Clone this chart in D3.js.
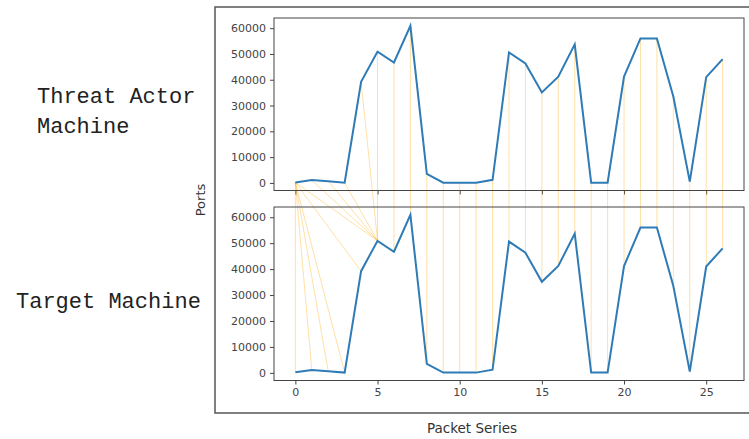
<!DOCTYPE html>
<html>
<head>
<meta charset="utf-8">
<script src="https://cdn.jsdelivr.net/npm/d3@7"></script>
<style>
  body { margin: 0; background: #fff; }
  svg { display: block; }
  .tick text { font-family: "DejaVu Sans", sans-serif; font-size: 11px; fill: #444; }
  .tick line { stroke: #444; }
</style>
</head>
<body>
<svg width="749" height="439"></svg>
<script>
// Port number of each packet
var threatPorts = [200, 1100, 650, 100, 39200, 50900, 46700, 60900, 3500, 100, 100, 100, 1200,
  50600, 46300, 35100, 41200, 53700, 100, 100, 41200, 56000, 56000, 33500, 500, 41000, 48000];
var targetPorts = [200, 1100, 650, 100, 39200, 50900, 46700, 60900, 3500, 100, 100, 100, 1200,
  50600, 46300, 35100, 41200, 53700, 100, 100, 41200, 56000, 56000, 33500, 500, 41000, 48000];

// warping path: [threat index, target index]
var alignPairs = [[0,0],[0,1],[0,2],[0,3],[0,4],[0,5],[1,5],[2,5],[3,5],[4,5],[5,5],
  [6,6],[7,7],[8,8],[9,9],[10,10],[11,11],[12,12],[13,13],[14,14],[15,15],[16,16],
  [17,17],[18,18],[19,19],[20,20],[21,21],[22,22],[23,23],[24,24],[25,25],[26,26]];

var xTicks = [0, 5, 10, 15, 20, 25];
var yTicks = [0, 10000, 20000, 30000, 40000, 50000, 60000];

var svg = d3.select('svg');

// panel boxes
var left = 274, right = 744;
var topPanel = {t: 18, b: 190.5};
var botPanel = {t: 207, b: 380.5};

// outer frame of the screenshot
svg.append('rect')
    .attr('x', 215).attr('y', 7)
    .attr('width', 560).attr('height', 406)
    .attr('fill', 'none')
    .attr('stroke', '#555')
    .attr('stroke-width', 1.5);

var n = threatPorts.length;
var xScale = d3.scaleLinear()
    .domain([-0.05 * (n - 1), (n - 1) * 1.05])
    .range([left, right]);

function yScaleFor(vals, box) {
  var ext = d3.extent(vals);
  var pad = (ext[1] - ext[0]) * 0.05;
  return d3.scaleLinear()
      .domain([ext[0] - pad, ext[1] + pad])
      .range([box.b, box.t]);
}

var yTop = yScaleFor(threatPorts, topPanel);
var yBot = yScaleFor(targetPorts, botPanel);

// axes
function drawAxes(yScale, box, showLabels) {
  var g = svg.append('g');
  g.append('rect')
      .attr('x', left).attr('y', box.t)
      .attr('width', right - left).attr('height', box.b - box.t)
      .attr('fill', '#fff');

  var xa = d3.axisBottom(xScale).tickValues(xTicks).tickSize(4).tickPadding(4);
  if (!showLabels) xa.tickFormat('');
  g.append('g')
      .attr('transform', 'translate(0,' + box.b + ')')
      .call(xa)
      .call(function(s) { s.select('.domain').remove(); });

  g.append('g')
      .attr('transform', 'translate(' + left + ',0)')
      .call(d3.axisLeft(yScale).tickValues(yTicks).tickFormat(d3.format('d')).tickSize(4).tickPadding(4))
      .call(function(s) { s.select('.domain').remove(); });
  return g;
}

drawAxes(yTop, topPanel, false);
drawAxes(yBot, botPanel, true);

// alignment links between the two series
svg.append('g').selectAll('line')
    .data(alignPairs)
  .enter().append('line')
    .attr('x1', function(d) { return xScale(d[0]); })
    .attr('y1', function(d) { return yTop(threatPorts[d[0]]); })
    .attr('x2', function(d) { return xScale(d[1]); })
    .attr('y2', function(d) { return yBot(targetPorts[d[1]]); })
    .attr('stroke', '#ffa500')
    .attr('stroke-opacity', 0.35)
    .attr('stroke-width', 1);

var line = function(yScale) {
  return d3.line()
      .x(function(d, i) { return xScale(i); })
      .y(function(d) { return yScale(d); });
};

svg.append('path')
    .datum(threatPorts)
    .attr('d', line(yTop))
    .attr('fill', 'none')
    .attr('stroke', '#2f7bb6')
    .attr('stroke-width', 2);

svg.append('path')
    .datum(targetPorts)
    .attr('d', line(yBot))
    .attr('fill', 'none')
    .attr('stroke', '#2f7bb6')
    .attr('stroke-width', 2);

// spines on top
[topPanel, botPanel].forEach(function(box) {
  svg.append('rect')
      .attr('x', left).attr('y', box.t)
      .attr('width', right - left).attr('height', box.b - box.t)
      .attr('fill', 'none')
      .attr('stroke', '#444')
      .attr('stroke-width', 1);
});

// labels
svg.append('text')
    .attr('transform', 'translate(205,200) rotate(-90)')
    .attr('text-anchor', 'middle')
    .style('font-family', '"DejaVu Sans", sans-serif')
    .style('font-size', '13px')
    .style('fill', '#333')
    .text('Ports');

svg.append('text')
    .attr('x', 472).attr('y', 433)
    .attr('text-anchor', 'middle')
    .style('font-family', '"DejaVu Sans", sans-serif')
    .style('font-size', '13.5px')
    .style('fill', '#333')
    .text('Packet Series');

var mono = svg.append('g')
    .style('font-family', '"Liberation Mono", "DejaVu Sans Mono", monospace')
    .style('font-size', '22px')
    .style('fill', '#222');
mono.append('text').attr('x', 37).attr('y', 103).text('Threat Actor');
mono.append('text').attr('x', 37).attr('y', 133).text('Machine');
mono.append('text').attr('x', 16).attr('y', 308).text('Target Machine');
</script>
</body>
</html>
